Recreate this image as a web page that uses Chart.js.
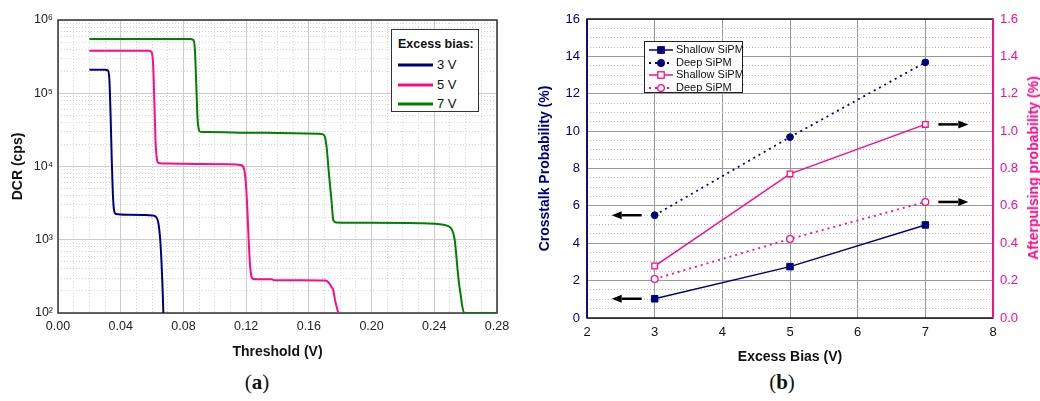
<!DOCTYPE html>
<html>
<head>
<meta charset="utf-8">
<title>SiPM DCR, crosstalk and afterpulsing</title>
<script src="https://cdn.jsdelivr.net/npm/chart.js@4.4.0/dist/chart.umd.min.js"></script>
<style>
  body { margin: 0; background: #fff; width: 1040px; height: 401px; position: relative; overflow: hidden;
         font-family: Arial, "Liberation Sans", sans-serif; }
  .panel { position: absolute; top: 0; width: 520px; height: 366px; }
  #panelA { left: 0; }
  #panelB { left: 520px; }
  .caption { position: absolute; top: 370px; width: 60px; text-align: center;
             font-family: "Liberation Serif", "DejaVu Serif", serif; font-size: 21px; color: #111; }
  .caption b { font-weight: bold; }
  .legend { position: absolute; background: #fff; box-sizing: border-box; color: #111; }
  .legend .row { position: absolute; left: 0; white-space: nowrap; }
  .legend svg { position: absolute; left: 0; top: 0; }
  .legend span { position: absolute; top: 0; }
  #legendA { left: 391px; top: 29px; width: 88px; height: 83px; border: 1.5px solid #333; font-size: 13px; }
  #legendA .title { position: absolute; left: 6px; top: 7px; font-weight: bold; font-size: 12.5px; white-space: nowrap; }
  #legendB { left: 124px; top: 41px; width: 99px; height: 52px; border: 1px solid #222; font-size: 11px; }
  #y2title { position: absolute; left: 513px; top: 168px; transform: translate(-50%, -50%) rotate(-90deg);
             white-space: nowrap; color: #ff0a87; font-weight: bold; font-size: 14px; }
</style>
</head>
<body>
<div class="panel" id="panelA">
  <canvas id="chartA" width="520" height="366"></canvas>
  <div class="legend" id="legendA"><div class="title">Excess bias:</div></div>
</div>
<div class="panel" id="panelB">
  <canvas id="chartB" width="520" height="366"></canvas>
  <div class="legend" id="legendB"></div>
  <div id="y2title">Afterpulsing probability (%)</div>
</div>
<div class="caption" style="left:227px">(<b>a</b>)</div>
<div class="caption" style="left:752px">(<b>b</b>)</div>

<script>
// ---------- (a) dark count rate vs threshold ----------
const biasLabels = ['3 V', '5 V', '7 V'];

const thr3 = [0.020, 0.030, 0.0318, 0.0328, 0.0336, 0.0343, 0.0350, 0.0358, 0.0370, 0.045, 0.055, 0.060,
	0.0625, 0.0640, 0.0652, 0.0660, 0.0666, 0.0672];
const dcr3 = [2.1e5, 2.1e5, 2.05e5, 1.5e5, 4.5e4, 1.2e4, 4.2e3, 2.5e3, 2.25e3, 2.2e3, 2.18e3, 2.15e3,
	2.05e3, 1.7e3, 1.0e3, 500, 250, 100];

const thr5 = [0.020, 0.058, 0.0597, 0.0607, 0.0615, 0.0622, 0.0630, 0.0640, 0.070, 0.090, 0.110, 0.1165,
	0.1185, 0.1198, 0.1208, 0.1216, 0.1224, 0.1232, 0.1245, 0.130, 0.1365, 0.1380, 0.155, 0.1705,
	0.1725, 0.1745, 0.1756, 0.1767, 0.1778, 0.1788];
const dcr5 = [3.8e5, 3.8e5, 3.65e5, 2.4e5, 7e4, 2.2e4, 1.3e4, 1.12e4, 1.1e4, 1.08e4, 1.07e4, 1.05e4,
	9.5e3, 6e3, 2.5e3, 1000, 480, 330, 292, 290, 288, 280, 280, 278,
	262, 225, 205, 150, 120, 100];

const thr7 = [0.020, 0.084, 0.0863, 0.0873, 0.0882, 0.0890, 0.0898, 0.0908, 0.095, 0.120, 0.150, 0.166,
	0.1690, 0.1703, 0.1715, 0.1724, 0.1735, 0.1745, 0.1756, 0.1775, 0.200, 0.230, 0.246,
	0.2505, 0.2520, 0.2530, 0.2538, 0.2548, 0.2558, 0.2568, 0.2578, 0.2590, 0.270, 0.280];
const dcr7 = [5.5e5, 5.5e5, 5.35e5, 4e5, 1.3e5, 4.5e4, 3.2e4, 2.97e4, 2.95e4, 2.9e4, 2.85e4, 2.8e4,
	2.75e4, 2.5e4, 1.7e4, 1.0e4, 5.5e3, 3.3e3, 1.85e3, 1.72e3, 1.7e3, 1.68e3, 1.6e3,
	1.45e3, 1.25e3, 1.0e3, 700, 400, 250, 180, 125, 100, 100, 100];

const biasColors = ['#00007f', '#ff0a87', '#007f00'];
const thrTicks = [0, 0.04, 0.08, 0.12, 0.16, 0.20, 0.24, 0.28];
const dcrDecades = [2, 3, 4, 5, 6];

// ---------- (b) crosstalk / afterpulsing vs excess bias ----------
const excessBias = [3, 5, 7];
const ctShallow = [1.03, 2.75, 4.98];
const ctDeep = [5.5, 9.68, 13.68];
const apShallow = [0.278, 0.771, 1.036];
const apDeep = [0.209, 0.423, 0.621];
const seriesNamesB = ['Shallow SiPM', 'Deep SiPM', 'Shallow SiPM', 'Deep SiPM'];
const biasTicks = [2, 3, 4, 5, 6, 7, 8];
const ctTicks = [0, 2, 4, 6, 8, 10, 12, 14, 16];
const apTicks = [0, 0.2, 0.4, 0.6, 0.8, 1.0, 1.2, 1.4, 1.6];
// arrows: which axis a curve belongs to
const arrowMarks = [
	{ x: 3, y: ctDeep[0], axis: 'y', dir: -1 },
	{ x: 3, y: ctShallow[0], axis: 'y', dir: -1 },
	{ x: 7, y: apShallow[2], axis: 'y2', dir: 1 },
	{ x: 7, y: apDeep[2], axis: 'y2', dir: 1 },
];

const NAVY = '#00007f';
const PINK = '#ff0a87';

Chart.defaults.font.family = 'Arial, "Liberation Sans", sans-serif';
Chart.defaults.color = '#111';
Chart.defaults.animation = false;

const SUP = { 2: '²', 3: '³', 4: '⁴', 5: '⁵', 6: '⁶' };
const toPts = (xs, ys) => xs.map((x, i) => ({ x: x, y: ys[i] }));

// frame around plot area, drawn under the data
const framePlugin = {
	id: 'frame',
	beforeDatasetsDraw(chart, args, opts) {
		const { ctx, chartArea: a } = chart;
		ctx.save();
		ctx.strokeStyle = opts.color;
		ctx.lineWidth = opts.width;
		ctx.strokeRect(a.left, a.top, a.right - a.left, a.bottom - a.top);
		if (opts.leftColor) {
			ctx.strokeStyle = opts.leftColor;
			ctx.beginPath();
			ctx.moveTo(a.left, a.top);
			ctx.lineTo(a.left, a.bottom);
			ctx.stroke();
		}
		if (opts.rightColor) {
			ctx.strokeStyle = opts.rightColor;
			ctx.lineWidth = opts.width + 0.5;
			ctx.beginPath();
			ctx.moveTo(a.right, a.top);
			ctx.lineTo(a.right, a.bottom);
			ctx.stroke();
		}
		ctx.restore();
	},
};

// arrows telling which axis a curve uses
const arrowPlugin = {
	id: 'axisArrows',
	afterDatasetsDraw(chart, args, opts) {
		const ctx = chart.ctx;
		const xs = chart.scales.x;
		ctx.save();
		ctx.strokeStyle = '#000';
		ctx.fillStyle = '#000';
		ctx.lineWidth = 2.5;
		(opts.marks || []).forEach((m) => {
			const px = xs.getPixelForValue(m.x);
			const py = chart.scales[m.axis].getPixelForValue(m.y);
			const start = px + m.dir * 13;
			const end = px + m.dir * 43;
			const headBase = end - m.dir * 10;
			ctx.beginPath();
			ctx.moveTo(start, py);
			ctx.lineTo(headBase, py);
			ctx.stroke();
			ctx.beginPath();
			ctx.moveTo(end, py);
			ctx.lineTo(headBase, py - 4);
			ctx.lineTo(headBase, py + 4);
			ctx.closePath();
			ctx.fill();
		});
		ctx.restore();
	},
};

// ---------- chart (a) ----------
const datasetsA = biasLabels.map((label, i) => ({
	label: label,
	data: toPts([thr3, thr5, thr7][i], [dcr3, dcr5, dcr7][i]),
	borderColor: biasColors[i],
	backgroundColor: biasColors[i],
	borderWidth: 2,
	pointRadius: 0,
	cubicInterpolationMode: 'monotone',
	fill: false,
}));

const isDecade = (v) => Math.abs(Math.log10(v) - Math.round(Math.log10(v))) < 1e-9;
const isThrMajor = (v) => Math.round(v * 100) % 4 === 0;

const chartA = new Chart(document.getElementById('chartA'), {
	type: 'line',
	data: { datasets: datasetsA },
	plugins: [framePlugin],
	options: {
		responsive: false,
		layout: { padding: { left: 0, right: 23, top: 20, bottom: 0 } },
		plugins: {
			legend: { display: false },
			tooltip: { enabled: false },
			frame: { color: '#333', width: 1.5 },
		},
		scales: {
			x: {
				type: 'linear',
				min: 0,
				max: 0.28,
				afterBuildTicks: (s) => {
					const t = [];
					for (let k = 0; k <= 28; k++) t.push({ value: k / 100 });
					s.ticks = t;
				},
				afterFit: (s) => { s.height = 53; },
				ticks: {
					autoSkip: false,
					maxRotation: 0,
					padding: 6,
					font: { size: 12.5 },
					color: '#222',
					callback: (v) => (thrTicks.some((t) => Math.abs(t - v) < 1e-6) ? v.toFixed(2) : ''),
				},
				grid: {
					drawTicks: false,
					color: (c) => (c.tick && isThrMajor(c.tick.value) ? '#cccccc' : '#d6d6d6'),
				},
				border: {
					display: false,
					dash: (c) => (c.tick && !isThrMajor(c.tick.value) ? [1, 2] : []),
				},
				title: {
					display: true,
					text: 'Threshold (V)',
					font: { size: 14, weight: 'bold' },
					color: '#111',
					padding: { top: 0, bottom: 5 },
				},
			},
			y: {
				type: 'logarithmic',
				min: 100,
				max: 1e6,
				afterBuildTicks: (s) => {
					const t = [];
					dcrDecades.slice(0, -1).forEach((e) => {
						for (let m = 1; m <= 9; m++) t.push({ value: m * Math.pow(10, e) });
					});
					t.push({ value: Math.pow(10, dcrDecades[dcrDecades.length - 1]) });
					s.ticks = t;
				},
				afterFit: (s) => { s.width = 58; },
				ticks: {
					autoSkip: false,
					padding: 5,
					font: { size: 12.5 },
					color: '#222',
					callback: (v) => (isDecade(v) ? '10' + SUP[Math.round(Math.log10(v))] : ''),
				},
				grid: {
					drawTicks: false,
					color: (c) => (c.tick && isDecade(c.tick.value) ? '#cccccc' : '#d6d6d6'),
				},
				border: {
					display: false,
					dash: (c) => (c.tick && !isDecade(c.tick.value) ? [1, 2] : []),
				},
				title: {
					display: true,
					text: 'DCR (cps)',
					font: { size: 14, weight: 'bold' },
					color: '#111',
					padding: { top: 10, bottom: 0 },
				},
			},
		},
	},
});

// ---------- chart (b) ----------
const datasetsB = [
	{
		label: seriesNamesB[0], data: toPts(excessBias, ctShallow), yAxisID: 'y',
		borderColor: NAVY, backgroundColor: NAVY, borderWidth: 1.5,
		pointStyle: 'rect', pointRadius: 4.6, pointBorderWidth: 1,
	},
	{
		label: seriesNamesB[1], data: toPts(excessBias, ctDeep), yAxisID: 'y',
		borderColor: NAVY, backgroundColor: NAVY, borderWidth: 1.8, borderDash: [2, 4],
		pointStyle: 'circle', pointRadius: 3.4, pointBorderWidth: 1,
	},
	{
		label: seriesNamesB[2], data: toPts(excessBias, apShallow), yAxisID: 'y2',
		borderColor: PINK, backgroundColor: '#fff', borderWidth: 1.5,
		pointStyle: 'rect', pointRadius: 4, pointBorderWidth: 1.3,
	},
	{
		label: seriesNamesB[3], data: toPts(excessBias, apDeep), yAxisID: 'y2',
		borderColor: PINK, backgroundColor: '#fff', borderWidth: 1.8, borderDash: [2, 4],
		pointStyle: 'circle', pointRadius: 3.4, pointBorderWidth: 1.3,
	},
];

const near = (arr, v) => arr.some((t) => Math.abs(t - v) < 1e-6);

const chartB = new Chart(document.getElementById('chartB'), {
	type: 'line',
	data: { datasets: datasetsB },
	plugins: [framePlugin, arrowPlugin],
	options: {
		responsive: false,
		layout: { padding: { left: 0, right: 0, top: 19, bottom: 0 } },
		plugins: {
			legend: { display: false },
			tooltip: { enabled: false },
			frame: { color: '#111', width: 1.5, leftColor: NAVY, rightColor: PINK },
			axisArrows: { marks: arrowMarks },
		},
		scales: {
			x: {
				type: 'linear',
				min: 2,
				max: 8,
				afterBuildTicks: (s) => {
					const t = [];
					for (let k = 4; k <= 16; k++) t.push({ value: k / 2 });
					s.ticks = t;
				},
				afterFit: (s) => { s.height = 48; },
				ticks: {
					autoSkip: false,
					maxRotation: 0,
					padding: 7,
					font: { size: 13 },
					color: '#111',
					callback: (v) => (near(biasTicks, v) ? String(v) : ''),
				},
				grid: {
					drawTicks: false,
					color: (c) => (c.tick && near(biasTicks, c.tick.value) ? '#9a9a9a' : 'rgba(0,0,0,0)'),
				},
				border: { display: false },
				title: {
					display: true,
					text: 'Excess Bias (V)',
					font: { size: 14, weight: 'bold' },
					color: '#111',
					padding: { top: 0, bottom: 0 },
				},
			},
			y: {
				type: 'linear',
				position: 'left',
				min: 0,
				max: 16,
				afterBuildTicks: (s) => {
					const t = [];
					for (let k = 0; k <= 32; k++) t.push({ value: k / 2 });
					s.ticks = t;
				},
				afterFit: (s) => { s.width = 67; },
				ticks: {
					autoSkip: false,
					padding: 7,
					font: { size: 13 },
					color: NAVY,
					callback: (v) => (near(ctTicks, v) ? String(v) : ''),
				},
				grid: {
					drawTicks: false,
					color: (c) => (c.tick && near(ctTicks, c.tick.value) ? '#9a9a9a' : '#b8b8b8'),
				},
				border: {
					display: false,
					dash: (c) => (c.tick && !near(ctTicks, c.tick.value) ? [1, 2] : []),
				},
				title: {
					display: true,
					text: 'Crosstalk Probability (%)',
					font: { size: 14, weight: 'bold' },
					color: NAVY,
					padding: { top: 17, bottom: 0 },
				},
			},
			y2: {
				type: 'linear',
				position: 'right',
				min: 0,
				max: 1.6,
				afterBuildTicks: (s) => { s.ticks = apTicks.map((v) => ({ value: v })); },
				afterFit: (s) => { s.width = 47; },
				ticks: {
					autoSkip: false,
					padding: 7,
					font: { size: 13 },
					color: PINK,
					callback: (v) => v.toFixed(1),
				},
				grid: { drawOnChartArea: false, drawTicks: false },
				border: { display: false },
			},
		},
	},
});

// ---------- html legends built from the datasets ----------
function lineSample(ds, w) {
	const dash = ds.borderDash ? ds.borderDash.join(',') : 'none';
	let marker = '';
	const c = w / 2;
	if (ds.pointStyle === 'rect') {
		marker = `<rect x="${c - 3.2}" y="1.8" width="6.4" height="6.4" fill="${ds.backgroundColor}" stroke="${ds.borderColor}" stroke-width="1.3"/>`;
	} else if (ds.pointStyle === 'circle') {
		marker = `<circle cx="${c}" cy="5" r="3.3" fill="${ds.backgroundColor}" stroke="${ds.borderColor}" stroke-width="1.3"/>`;
	}
	return `<svg width="${w}" height="10" viewBox="0 0 ${w} 10"><line x1="0" y1="5" x2="${w}" y2="5" stroke="${ds.borderColor}" stroke-width="${ds.borderWidth}" stroke-dasharray="${dash}"/>${marker}</svg>`;
}

const legA = document.getElementById('legendA');
chartA.data.datasets.forEach((ds, i) => {
	const row = document.createElement('div');
	row.className = 'row';
	row.style.top = (27 + i * 19.5) + 'px';
	row.innerHTML = `<div style="position:absolute;left:6px;top:3px">${lineSample({ borderColor: ds.borderColor, borderWidth: 3 }, 35)}</div><span style="left:45px">${ds.label}</span>`;
	legA.appendChild(row);
});

const legB = document.getElementById('legendB');
chartB.data.datasets.forEach((ds, i) => {
	const row = document.createElement('div');
	row.className = 'row';
	row.style.top = (1 + i * 12.6) + 'px';
	row.innerHTML = `<div style="position:absolute;left:4px;top:2px">${lineSample(ds, 24)}</div><span style="left:31px">${ds.label}</span>`;
	legB.appendChild(row);
});
</script>
</body>
</html>
